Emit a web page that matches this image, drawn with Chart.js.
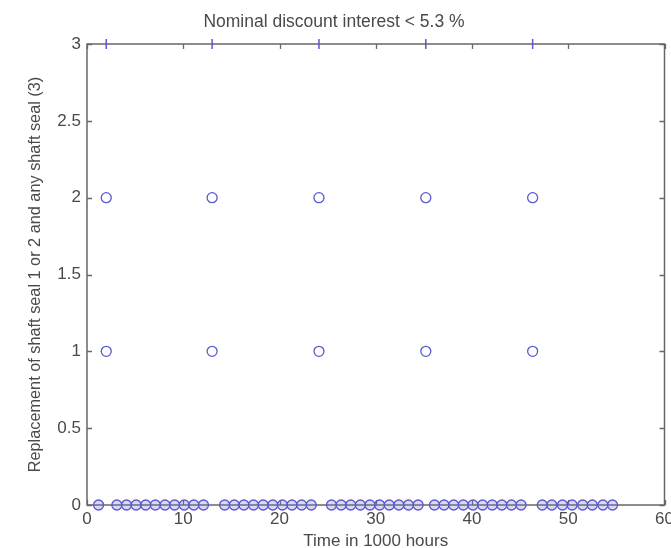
<!DOCTYPE html>
<html>
<head>
<meta charset="utf-8">
<script src="https://cdn.jsdelivr.net/npm/chart.js@4.4.1/dist/chart.umd.min.js"></script>
<style>
  html, body { margin: 0; padding: 0; background: #ffffff; }
  canvas { display: block; }
</style>
</head>
<body>
<canvas id="c" width="671" height="548"></canvas>
<script>
// ---- data ----
const chartTitle = "Nominal discount interest < 5.3 %";
const xTitle = "Time in 1000 hours";
const yTitle = "Replacement of shaft seal 1 or 2 and any shaft seal (3)";

// times of the replacements (1000 h)
const replaceX = [2, 13, 24.1, 35.2, 46.3];
const replaceY1 = [1, 1, 1, 1, 1];
const replaceY2 = [2, 2, 2, 2, 2];
const replaceY3 = [3, 3, 3, 3, 3];

// times with no replacement (value 0)
const zeroX = [
  1.2,
  3.1, 4.1, 5.1, 6.1, 7.1, 8.1, 9.1, 10.1, 11.1, 12.1,
  14.3, 15.3, 16.3, 17.3, 18.3, 19.3, 20.3, 21.3, 22.3, 23.3,
  25.4, 26.4, 27.4, 28.4, 29.4, 30.4, 31.4, 32.4, 33.4, 34.4,
  36.1, 37.1, 38.1, 39.1, 40.1, 41.1, 42.1, 43.1, 44.1, 45.1,
  47.3, 48.3, 49.4, 50.4, 51.5, 52.5, 53.6, 54.6
];
const zeroY = [
  0,
  0, 0, 0, 0, 0, 0, 0, 0, 0, 0,
  0, 0, 0, 0, 0, 0, 0, 0, 0, 0,
  0, 0, 0, 0, 0, 0, 0, 0, 0, 0,
  0, 0, 0, 0, 0, 0, 0, 0, 0, 0,
  0, 0, 0, 0, 0, 0, 0, 0
];

const xMin = 0, xMax = 60, xStep = 10;
const yMin = 0, yMax = 3, yStep = 0.5;

// ---- styles ----
const markerColor = '#5858d0';
const axisColor = '#676767';
const textColor = '#4a4a4a';
const fontFamily = 'Arial, "Liberation Sans", Helvetica, sans-serif';

function pts(xs, ys) { return xs.map((x, i) => ({x: x, y: ys[i]})); }

// draws the MATLAB-like box with inward ticks using the chart's scales
const boxPlugin = {
  id: 'box',
  beforeDatasetsDraw(chart) {
    const {ctx, chartArea: a, scales: {x, y}} = chart;
    ctx.save();
    ctx.strokeStyle = axisColor;
    ctx.lineWidth = 1.5;
    ctx.strokeRect(a.left, a.top, a.right - a.left, a.bottom - a.top);
    const tl = 5;
    ctx.lineWidth = 1.3;
    ctx.beginPath();
    for (let v = xMin; v <= xMax + 1e-9; v += xStep) {
      const px = Math.round(x.getPixelForValue(v)) + 0.5;
      ctx.moveTo(px, a.bottom); ctx.lineTo(px, a.bottom - tl);
      ctx.moveTo(px, a.top); ctx.lineTo(px, a.top + tl);
    }
    for (let v = yMin; v <= yMax + 1e-9; v += yStep) {
      const py = Math.round(y.getPixelForValue(v)) + 0.5;
      ctx.moveTo(a.left, py); ctx.lineTo(a.left + tl, py);
      ctx.moveTo(a.right, py); ctx.lineTo(a.right - tl, py);
    }
    ctx.stroke();
    ctx.restore();
  }
};

new Chart(document.getElementById('c'), {
  type: 'scatter',
  data: {
    datasets: [
      {
        data: pts(zeroX, zeroY),
        pointStyle: 'circle',
        pointRadius: 5,
        pointBorderWidth: 1.3,
        pointBorderColor: markerColor,
        pointBackgroundColor: 'rgba(120,120,220,0.28)',
        clip: false
      },
      {
        data: pts(replaceX, replaceY1),
        pointStyle: 'circle',
        pointRadius: 5,
        pointBorderWidth: 1.3,
        pointBorderColor: markerColor,
        pointBackgroundColor: 'rgba(255,255,255,0)',
        clip: false
      },
      {
        data: pts(replaceX, replaceY2),
        pointStyle: 'circle',
        pointRadius: 5,
        pointBorderWidth: 1.3,
        pointBorderColor: markerColor,
        pointBackgroundColor: 'rgba(255,255,255,0)',
        clip: false
      },
      {
        data: pts(replaceX, replaceY3),
        pointStyle: 'line',
        rotation: 90,
        pointRadius: 5,
        pointBorderWidth: 1.5,
        pointBorderColor: markerColor,
        clip: false
      }
    ]
  },
  options: {
    responsive: false,
    animation: false,
    devicePixelRatio: 1,
    layout: { padding: { left: 0, right: 3, top: 0, bottom: 0 } },
    plugins: {
      legend: { display: false },
      tooltip: { enabled: false },
      title: {
        display: true,
        text: chartTitle,
        color: textColor,
        font: { family: fontFamily, size: 17.5, weight: 'normal', lineHeight: 1.2 },
        padding: { top: 11.5, bottom: 11.5 }
      }
    },
    scales: {
      x: {
        type: 'linear',
        min: xMin, max: xMax,
        grid: { display: false, drawTicks: false, tickLength: 0 },
        border: { display: false },
        ticks: {
          stepSize: xStep,
          color: textColor,
          padding: 4,
          maxRotation: 0,
          font: { family: fontFamily, size: 17 }
        },
        title: {
          display: true,
          text: xTitle,
          color: textColor,
          font: { family: fontFamily, size: 17, lineHeight: 1.2 },
          padding: { top: 0, bottom: -4 }
        },
        afterFit(scale) {
          scale.height = 43;
          scale.paddingLeft = 0;
          scale.paddingRight = 0;
        }
      },
      y: {
        type: 'linear',
        min: yMin, max: yMax,
        grid: { display: false, drawTicks: false, tickLength: 0 },
        border: { display: false },
        ticks: {
          stepSize: yStep,
          color: textColor,
          padding: 6,
          font: { family: fontFamily, size: 17 },
          callback: (v) => String(Number(v))
        },
        title: {
          display: true,
          text: yTitle,
          color: textColor,
          font: { family: fontFamily, size: 16.3, lineHeight: 1.2 },
          padding: { top: 26, bottom: 0 }
        },
        afterFit(scale) {
          scale.width = 87;
          scale.paddingTop = 0;
          scale.paddingBottom = 0;
        }
      }
    }
  },
  plugins: [boxPlugin]
});
</script>
</body>
</html>
